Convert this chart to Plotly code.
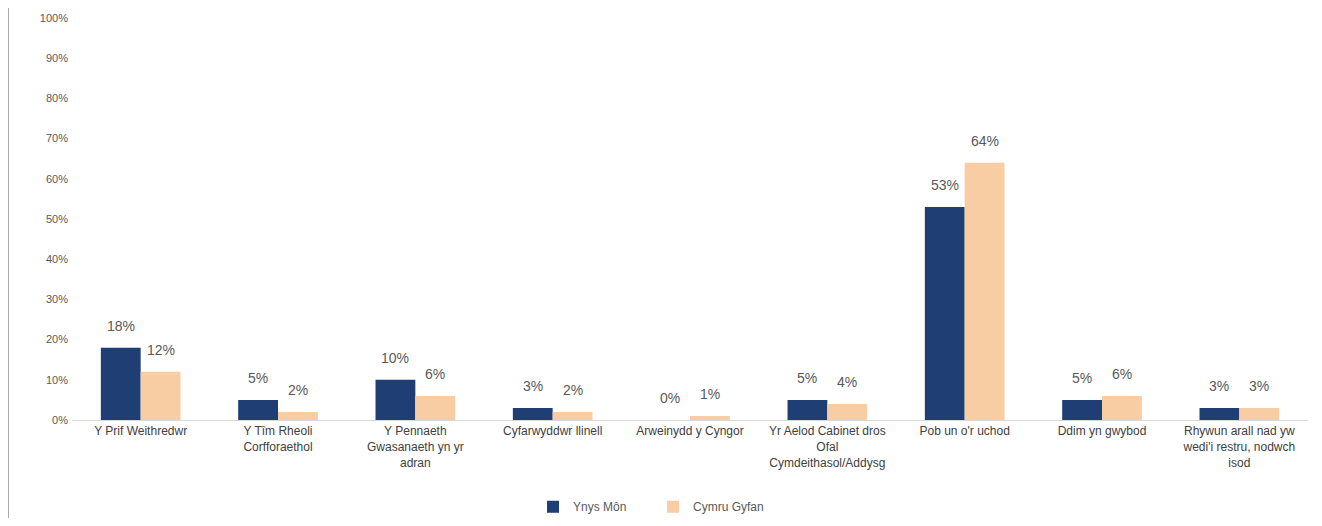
import plotly.graph_objects as go

categories = [
    "Y Prif Weithredwr",
    "Y Tîm Rheoli<br>Corfforaethol",
    "Y Pennaeth<br>Gwasanaeth yn yr<br>adran",
    "Cyfarwyddwr llinell",
    "Arweinydd y Cyngor",
    "Yr Aelod Cabinet dros<br>Ofal<br>Cymdeithasol/Addysg",
    "Pob un o'r uchod",
    "Ddim yn gwybod",
    "Rhywun arall nad yw<br>wedi'i restru, nodwch<br>isod",
]
ynys_mon = [18, 5, 10, 3, 0, 5, 53, 5, 3]
cymru_gyfan = [12, 2, 6, 2, 1, 4, 64, 6, 3]
series_names = ["Ynys Môn", "Cymru Gyfan"]
y_ticks = [0, 10, 20, 30, 40, 50, 60, 70, 80, 90, 100]

dark = "#1F3F74"
light = "#F9CDA3"
txt = "#595959"
FONT = "Liberation Sans, Arial"

fig = go.Figure()
annotations = []
for (name, vals, col), shift in zip(
        [(series_names[0], ynys_mon, dark), (series_names[1], cymru_gyfan, light)], [-20, 20]):
    fig.add_trace(go.Bar(
        x=categories, y=vals, name=name, marker=dict(color=col, line=dict(width=0)),
    ))
    for c, v in zip(categories, vals):
        annotations.append(dict(
            x=c, y=v, xref="x", yref="y", text=f"{v}%", showarrow=False,
            xshift=shift, yshift=22, yanchor="middle",
            font=dict(family=FONT, size=14, color=txt),
        ))

fig.update_layout(
    width=1306, height=510,
    barmode="group", bargap=0.42, bargroupgap=0.0,
    plot_bgcolor="white", paper_bgcolor="white",
    margin=dict(l=64, r=6, t=10, b=98),
    font=dict(family=FONT, size=12, color=txt),
    showlegend=True,
    legend=dict(orientation="h", xref="paper", x=0.373, xanchor="left",
                yref="container", y=0.022, yanchor="middle",
                font=dict(family=FONT, size=12, color=txt), entrywidth=75, entrywidthmode="pixels"),
    xaxis=dict(showline=True, linecolor="#D9D9D9", linewidth=1,
               tickfont=dict(family=FONT, size=12, color="#404040"),
               ticks="", automargin=False),
    yaxis=dict(range=[0, 100], tickvals=y_ticks, ticktext=[f"{v}%" for v in y_ticks],
               showgrid=False, zeroline=False, showline=False, ticks="",
               color=txt, tickfont=dict(family="Liberation Sans Narrow, " + FONT, size=11, color=txt),
               ticklabelstandoff=3, automargin=False),
    annotations=annotations,
    shapes=[dict(type="line", xref="paper", yref="paper", x0=-0.0518, x1=-0.0518, y0=-0.3, y1=1.05,
                 line=dict(color="#A6A6A6", width=2))],
)

fig.write_html("out.html")
